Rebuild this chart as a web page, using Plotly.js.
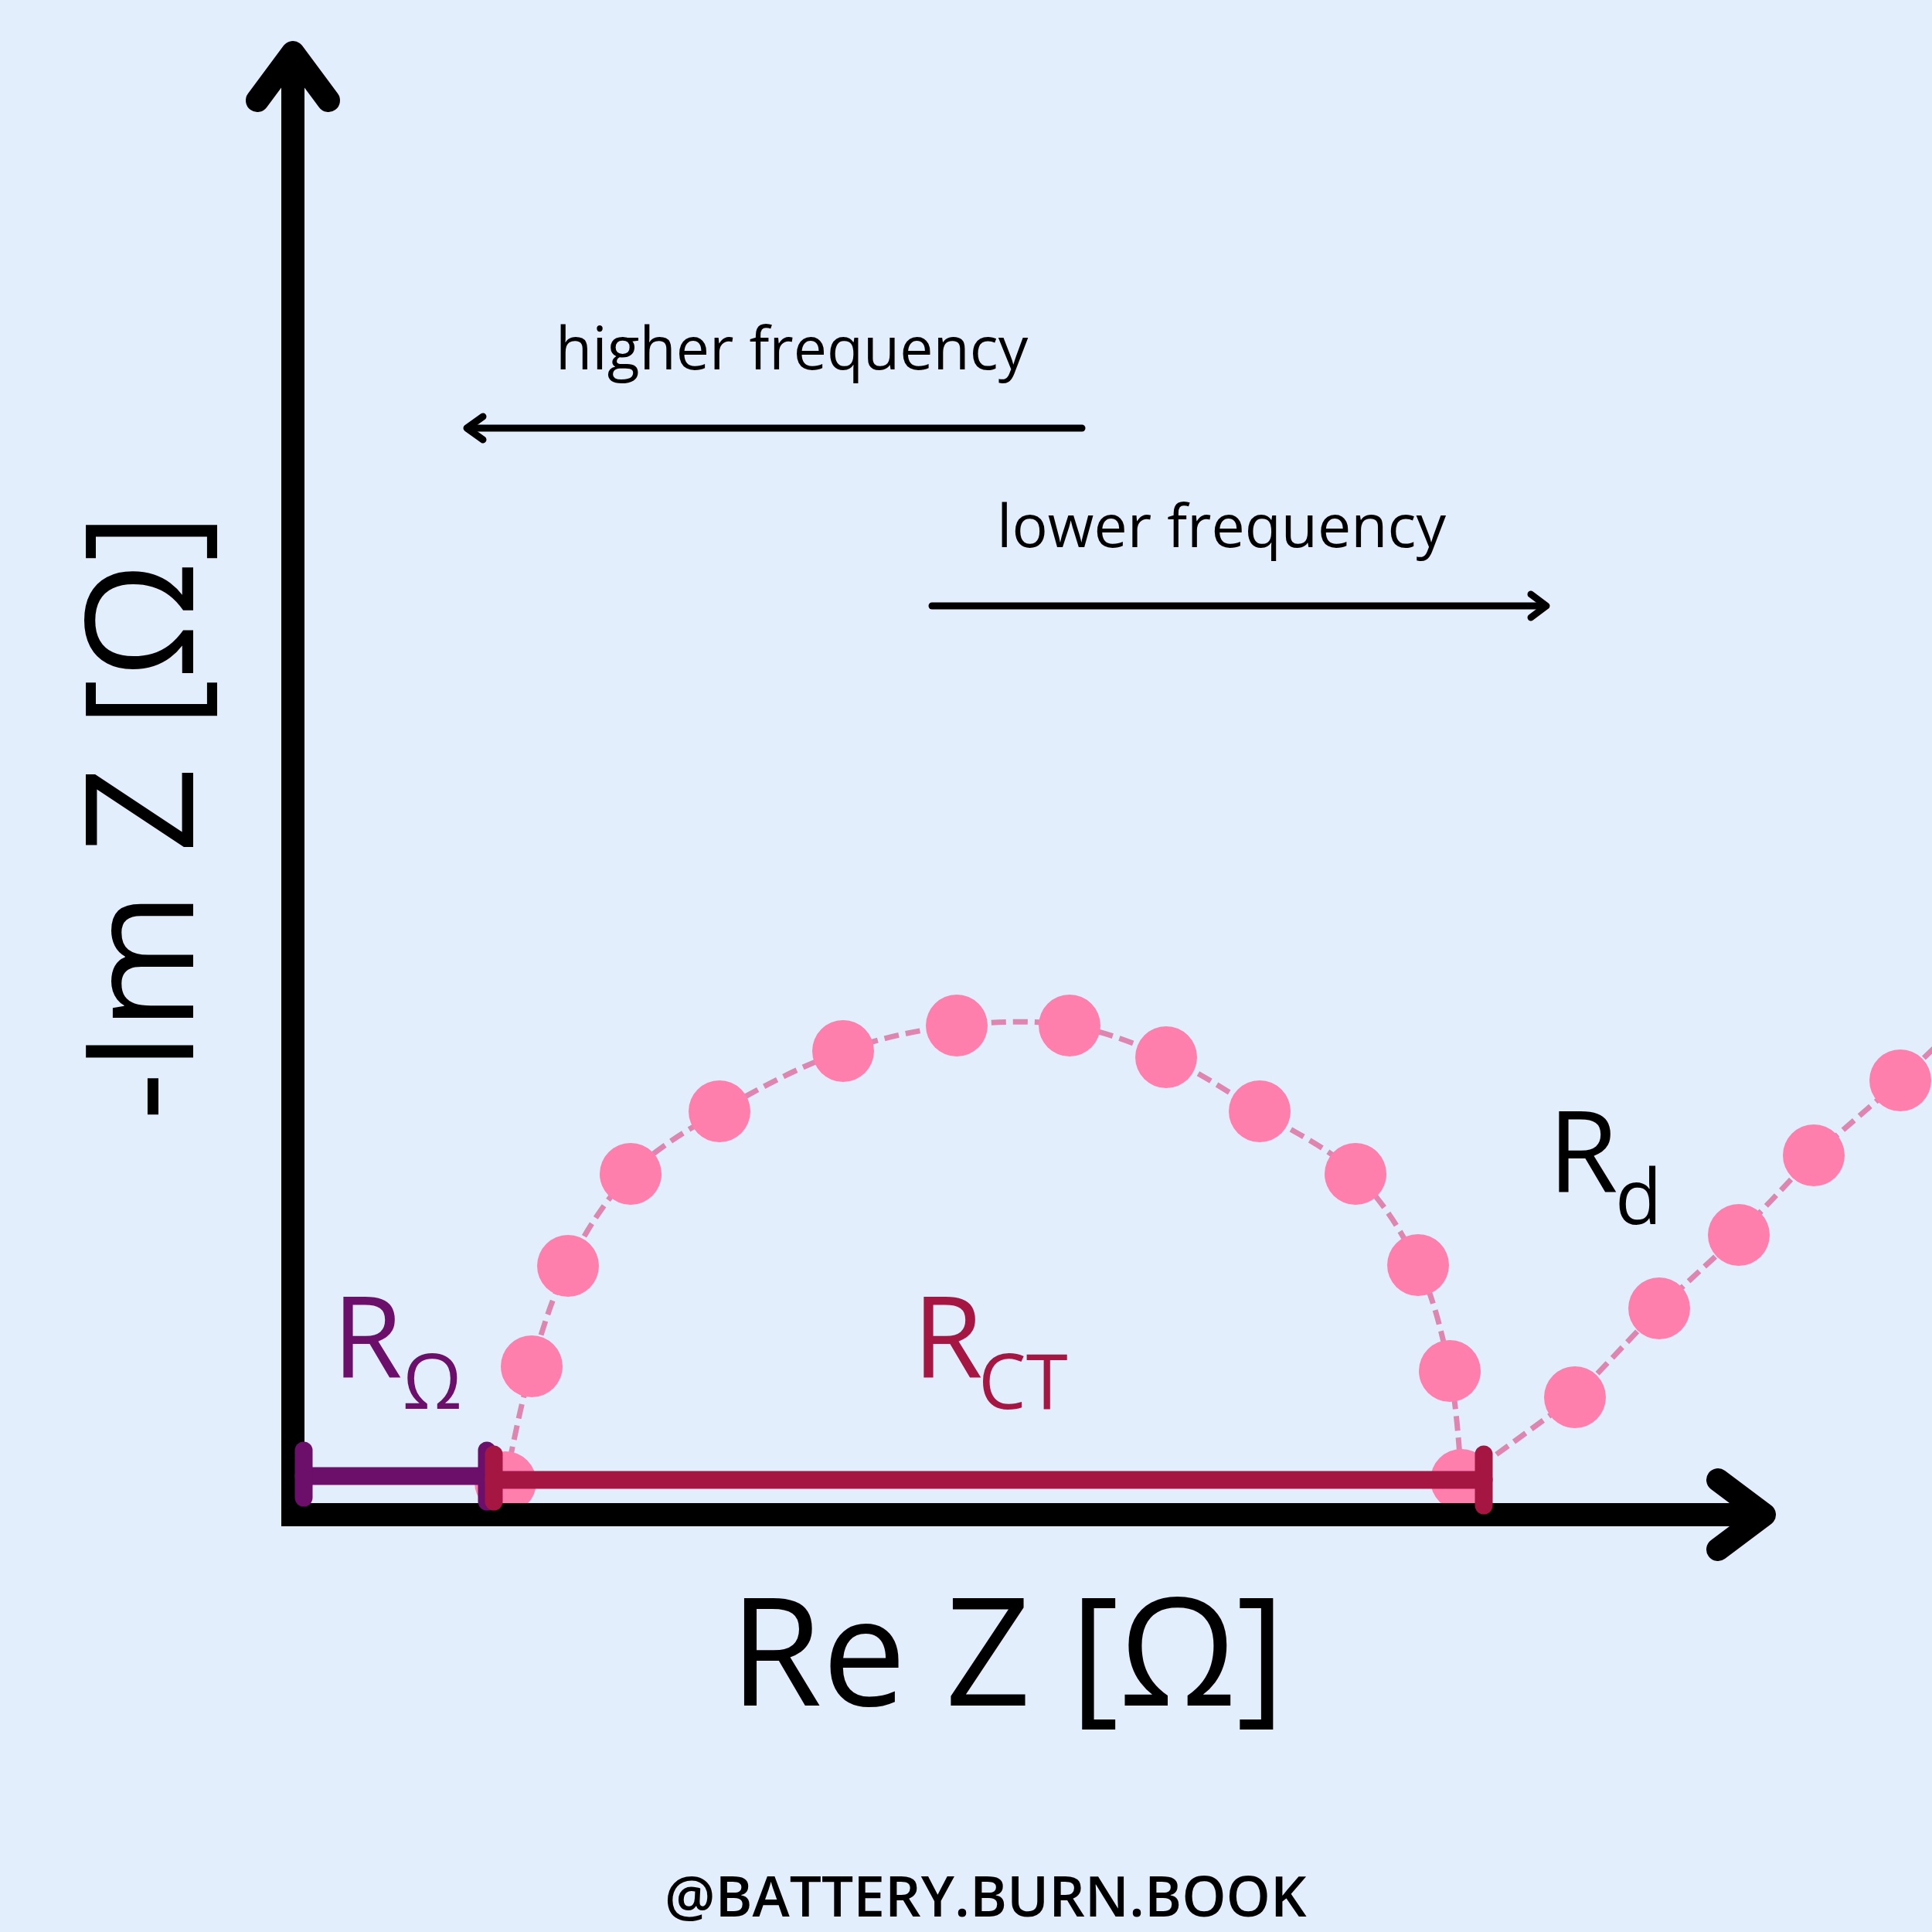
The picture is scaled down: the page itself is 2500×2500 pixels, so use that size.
<!DOCTYPE html>
<html>
<head>
<meta charset="utf-8">
<script src="https://cdn.plot.ly/plotly-3.0.1.min.js"></script>
<style>
  html, body { margin: 0; padding: 0; background: #e2eefc; }
  #chart { width: 2500px; height: 2500px; }
  .shapelayer path { stroke-linecap: round; stroke-linejoin: round; }
</style>
</head>
<body>
<div id="chart"></div>
<script>
// ---- Data (Re Z, -Im Z) in arbitrary Ω units ----
const semiRe = [2.75, 3.09, 3.56, 4.37, 5.52, 7.12, 8.59, 10.05, 11.30, 12.51, 13.75, 14.56, 14.97, 15.12];
const semiIm = [0.42, 1.92, 3.22, 4.41, 5.22, 6.00, 6.33, 6.33, 5.92, 5.22, 4.41, 3.23, 1.86, 0.45];
const diffRe = [16.59, 17.68, 18.71, 19.68, 20.80, 21.85];
const diffIm = [1.52, 2.67, 3.62, 4.65, 5.62, 6.62];

// resistance spans marked under the curve
const resistNames = ['R', 'R'];
const resistSubs = ['Ω', 'CT'];
const resistFrom = [0.14, 2.60];
const resistTo = [2.51, 15.41];
const resistLevel = [0.50, 0.45];

const diffName = 'R';
const diffSub = 'd';

const xTitle = 'Re Z [Ω]';
const yTitle = '-Im Z [Ω]';
const hiText = 'higher frequency';
const loText = 'lower frequency';
const credit = '@BATTERY.BURN.BOOK';

// ---- Styles ----
const BG = '#e2eefc';
const DOT = '#ff7fac';
const DASH = '#de86b1';
const PURPLE = '#6b0f6b';
const CRIMSON = '#a51742';
const FONT = 'Open Sans';
const DASHPAT = '19px,9px';

const lastI = semiRe.length - 1;

const traces = [
  { type: 'scatter', mode: 'lines', x: semiRe, y: semiIm,
    line: { shape: 'spline', smoothing: 1, dash: DASHPAT, width: 7, color: DASH }, hoverinfo: 'skip' },
  { type: 'scatter', mode: 'lines', x: [semiRe[lastI]].concat(diffRe), y: [semiIm[lastI]].concat(diffIm),
    line: { dash: DASHPAT, width: 7, color: DASH }, hoverinfo: 'skip' },
  { type: 'scatter', mode: 'markers', x: semiRe.concat(diffRe), y: semiIm.concat(diffIm),
    marker: { size: 80, color: DOT, line: { width: 0 } }, hoverinfo: 'skip' }
];

// ---- Decorative axes (arrows) in data space ----
const shapes = [];
function bar(x0, y0, x1, y1) {
  shapes.push({ type: 'rect', xref: 'x', yref: 'y', x0: x0, y0: y0, x1: x1, y1: y1,
    fillcolor: '#000', line: { width: 0 }, layer: 'above' });
}
function seg(x0, y0, x1, y1, color, w) {
  shapes.push({ type: 'line', xref: 'x', yref: 'y', x0: x0, y0: y0, x1: x1, y1: y1,
    line: { color: color, width: w }, layer: 'above' });
}
function chevron(pts, color, w) {
  let d = 'M ' + pts.map(p => p[0] + ',' + p[1]).join(' L ');
  shapes.push({ type: 'path', xref: 'x', yref: 'y', path: d,
    line: { color: color, width: w }, fillcolor: 'rgba(0,0,0,0)', layer: 'above' });
}
// y axis (square corner with the x axis)
bar(-0.15, -0.15, 0.15, 18.90);
chevron([[-0.46, 18.30], [0, 18.92], [0.46, 18.30]], '#000', 30);
// x axis
bar(-0.15, -0.15, 19.00, 0.15);
chevron([[18.44, 0.45], [19.04, 0], [18.44, -0.45]], '#000', 30);
// frequency arrows
seg(10.21, 14.06, 2.27, 14.06, '#000', 9);
chevron([[2.46, 14.21], [2.25, 14.06], [2.46, 13.91]], '#000', 9);
seg(8.27, 11.76, 16.20, 11.76, '#000', 9);
chevron([[16.02, 11.91], [16.22, 11.76], [16.02, 11.61]], '#000', 9);

// resistance span bars
const barColors = [PURPLE, CRIMSON];
for (let i = 0; i < resistFrom.length; i++) {
  const c = barColors[i];
  seg(resistFrom[i], resistLevel[i], resistTo[i], resistLevel[i], c, 23);
  seg(resistFrom[i], resistLevel[i] + 0.33, resistFrom[i], resistLevel[i] - 0.28, c, 23);
  seg(resistTo[i], resistLevel[i] + 0.33, resistTo[i], resistLevel[i] - 0.33, c, 23);
}

// ---- Text ----
function txt(t, x, y, size, color, extra) {
  return Object.assign({ text: t, x: x, y: y, xref: 'x', yref: 'y', showarrow: false,
    xanchor: 'center', yanchor: 'middle',
    font: { family: FONT, size: size, color: color } }, extra || {});
}
const annotations = [
  txt(xTitle, 9.24, -1.72, 194, '#000'),
  txt(yTitle, -2.04, 9.03, 194, '#000', { textangle: -90 }),
  txt(hiText, 6.46, 15.12, 77, '#000'),
  txt(loText, 12.01, 12.82, 77, '#000'),
  txt(resistNames[0], 0.96, 2.34, 147, PURPLE),
  txt(resistSubs[0], 1.80, 1.75, 98, PURPLE),
  txt(resistNames[1], 8.47, 2.34, 147, CRIMSON),
  txt(resistSubs[1], 9.45, 1.75, 98, CRIMSON),
  txt(diffName, 16.69, 4.74, 147, '#000'),
  txt(diffSub, 17.41, 4.15, 99, '#000'),
  Object.assign(txt(credit, 8.96, -4.91, 73, '#000'), { font: { family: FONT, size: 73, color: '#000', weight: 600 } })
];

const layout = {
  width: 2500, height: 2500,
  margin: { l: 0, r: 0, t: 0, b: 0, pad: 0 },
  paper_bgcolor: BG, plot_bgcolor: BG,
  showlegend: false,
  xaxis: { range: [-3.79, 21.21], visible: false, showgrid: false, zeroline: false, fixedrange: true },
  yaxis: { range: [-5.40, 19.60], visible: false, showgrid: false, zeroline: false, fixedrange: true },
  shapes: shapes,
  annotations: annotations
};

Plotly.newPlot('chart', traces, layout, { staticPlot: true, displayModeBar: false });
</script>
</body>
</html>
